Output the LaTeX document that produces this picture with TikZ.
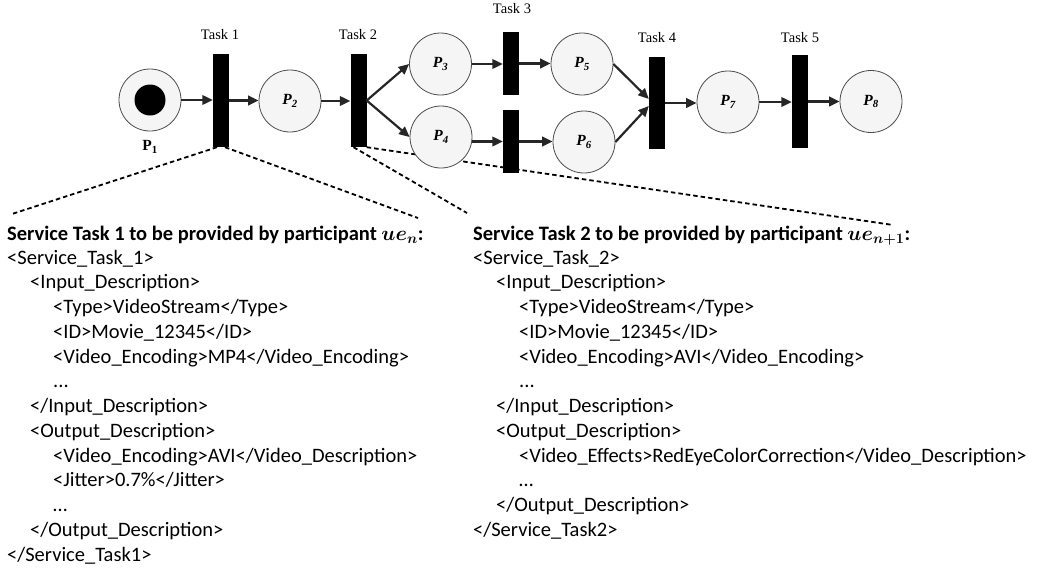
\documentclass[tikz,border=0pt]{standalone}
\usepackage{fontspec}
\setmainfont{Carlito}
\newfontfamily\timesf{Liberation Serif}
\usetikzlibrary{arrows.meta,backgrounds}
\begin{document}
\begin{tikzpicture}[x=1pt,y=-1pt,
  place/.style={circle, draw=gray!60!black, line width=0.8pt, fill=gray!8, minimum size=62pt, inner sep=0pt, font=\timesf\fontsize{15.5}{16}\selectfont\bfseries\itshape},
  trans/.style={fill=black, draw=none, minimum width=16pt, inner sep=0pt},
  tlabel/.style={font=\timesf\fontsize{14.5}{16}\selectfont, inner sep=0pt},
  arc/.style={draw=gray!30!black, line width=2.2pt, -{Triangle[length=10.5pt,width=9.5pt]}},
  link/.style={draw=black, line width=1.8pt, dash pattern=on 4.5pt off 3pt},
  xml/.style={font=\fontsize{20.5}{24}\selectfont, inner sep=0pt, anchor=base west},
  xmlhead/.style={inner sep=0pt, anchor=base west, font=\fontsize{20.5}{24}\selectfont\bfseries\boldmath}]

\useasboundingbox (0,0) rectangle (1042,573);

% places and transitions
\node[place] (P1) at (150,100) {};
\node[circle, fill=black, minimum size=31pt, inner sep=0pt] (tok) at (P1) {};
\node[font=\timesf\fontsize{15.5}{16}\selectfont\bfseries, inner sep=0pt] (P1l) at (150,147) {P\textsubscript{1}};
\node[trans, minimum height=93pt] (T1) at (221,100.5) {};
\node[place] (P2) at (290,101) {P\textsubscript{2}};
\node[trans, minimum height=93pt] (T2) at (358.5,100.5) {};
\node[place] (P3) at (440.5,64) {P\textsubscript{3}};
\node[place] (P4) at (441,137) {P\textsubscript{4}};
\node[trans, minimum height=63pt] (T3a) at (511,63.5) {};
\node[trans, minimum height=63pt] (T3b) at (511,141.5) {};
\node[place] (P5) at (582,64) {P\textsubscript{5}};
\node[place] (P6) at (584,142) {P\textsubscript{6}};
\node[trans, minimum height=92pt] (T4) at (657,103) {};
\node[place] (P7) at (728,102) {P\textsubscript{7}};
\node[trans, minimum height=93pt] (T5) at (800,101.5) {};
\node[place] (P8) at (871,101.5) {P\textsubscript{8}};

% task labels
\node[tlabel] (L1) at (220,35) {Task 1};
\node[tlabel] (L2) at (358,35) {Task 2};
\node[tlabel] (L3) at (512,9) {Task 3};
\node[tlabel] (L4) at (657,38) {Task 4};
\node[tlabel] (L5) at (800,38) {Task 5};

% arcs
\draw[arc] (P1.east) -- (P1.east -| T1.west);
\draw[arc] (T1.east) -- (T1.east -| P2.west);
\draw[arc] (P2.east) -- (P2.east -| T2.west);
\draw[arc] (T2.east) -- (P3.west);
\draw[arc] (T2.east) -- (P4.west);
\draw[arc] (P3.east) -- (P3.east -| T3a.west);
\draw[arc] (T3a.east) -- (T3a.east -| P5.west);
\draw[arc] (P4.east |- T3b.west) -- (T3b.west);
\draw[arc] (T3b.east) -- (T3b.east -| P6.west);
\draw[arc] (P5.east) -- ([yshift=4pt]T4.west);
\draw[arc] (P6.east) -- ([yshift=-3pt]T4.west);
\draw[arc] (T4.east) -- (T4.east -| P7.west);
\draw[arc] (P7.east) -- (P7.east -| T5.west);
\draw[arc] (T5.east) -- (T5.east -| P8.west);

% text blocks
\node[xmlhead] (H1) at (7,240) {Service Task 1 to be provided by participant $ue_n$:};
\node[xml] (A1) at (7,264) {<Service\_Task\_1>};
\node[xml] (A2) at (30,288.8) {<Input\_Description>};
\node[xml] (A3) at (53,313.5) {<Type>VideoStream</Type>};
\node[xml] (A4) at (53,338.3) {<ID>Movie\_12345</ID>};
\node[xml] (A5) at (53,363.1) {<Video\_Encoding>MP4</Video\_Encoding>};
\node[xml] (A6) at (53,387.9) {...};
\node[xml] (A7) at (30,412.6) {</Input\_Description>};
\node[xml] (A8) at (30,437.4) {<Output\_Description>};
\node[xml] (A9) at (53,462.2) {<Video\_Encoding>AVI</Video\_Description>};
\node[xml] (A10) at (53,486.9) {<Jitter>0.7\%</Jitter>};
\node[xml] (A11) at (53,511.7) {…};
\node[xml] (A12) at (30,536.5) {</Output\_Description>};
\node[xml] (A13) at (7,561.2) {</Service\_Task1>};

\node[xmlhead] (H2) at (473,240) {Service Task 2 to be provided by participant $ue_{n+1}$:};
\node[xml] (B1) at (473,264) {<Service\_Task\_2>};
\node[xml] (B2) at (496,288.8) {<Input\_Description>};
\node[xml] (B3) at (519,313.5) {<Type>VideoStream</Type>};
\node[xml] (B4) at (519,338.3) {<ID>Movie\_12345</ID>};
\node[xml] (B5) at (519,363.1) {<Video\_Encoding>AVI</Video\_Encoding>};
\node[xml] (B6) at (519,387.9) {...};
\node[xml] (B7) at (496,412.6) {</Input\_Description>};
\node[xml] (B8) at (496,437.4) {<Output\_Description>};
\node[xml] (B9) at (519,462.2) {<Video\_Effects>RedEyeColorCorrection</Video\_Description>};
\node[xml] (B10) at (519,486.9) {…};
\node[xml] (B11) at (496,511.7) {</Output\_Description>};
\node[xml] (B12) at (473,536.5) {</Service\_Task2>};

% dashed links
\coordinate (e1) at (12,214);
\coordinate (e2) at (418,218);
\coordinate (e3) at (467,213);
\coordinate (e4) at (893,225);
\begin{scope}[on background layer]
\draw[link] ([xshift=-4pt]T1.south) -- (e1);
\draw[link] ([xshift=4pt]T1.south) -- (e2);
\draw[link] ([xshift=-5pt]T2.south) -- (e3);
\draw[link] (T2.south east) -- (e4);
\end{scope}
\end{tikzpicture}
\end{document}
